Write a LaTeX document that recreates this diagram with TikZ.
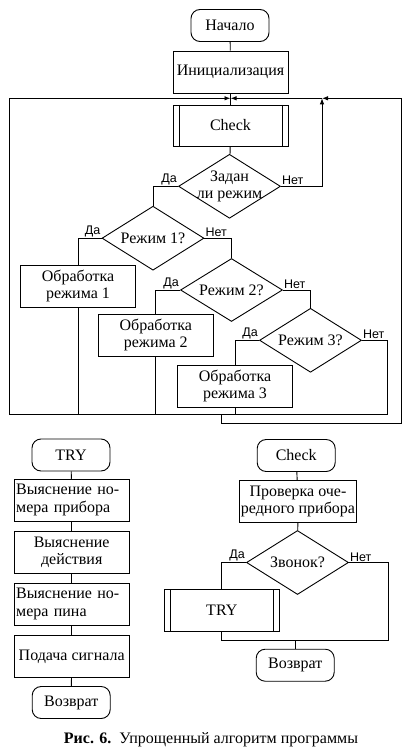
\documentclass[tikz,border=0pt]{standalone}
\usepackage{fontspec}
\setmainfont{Liberation Serif}
\newfontfamily\lblfont{Liberation Sans}
\usetikzlibrary{shapes.geometric, arrows.meta}

\tikzset{
  blk/.style = {draw, black, line width = 0.9pt, minimum width = 115pt, minimum height = 42pt, inner sep = 1pt, align = center},
  term/.style = {blk, rounded corners = 9pt, minimum width = 78pt, minimum height = 32pt},
  leftblk/.style = {blk, inner sep = 2pt, text width = 111pt, align = left},
  subproc/.style = {blk, path picture = {
      \draw[black, line width = 0.9pt]
        ([xshift = 6pt]path picture bounding box.north west) -- ([xshift = 6pt]path picture bounding box.south west)
        ([xshift = -6pt]path picture bounding box.north east) -- ([xshift = -6pt]path picture bounding box.south east);}},
  cond/.style = {draw, black, line width = 0.9pt, diamond, minimum width = 102pt, minimum height = 64pt, inner sep = 0pt},
  yes/.style = {anchor = south east, inner sep = 1pt, font = \lblfont\fontsize{12.5}{12.5}\selectfont},
  no/.style = {anchor = south west, inner sep = 1pt, font = \lblfont\fontsize{12.5}{12.5}\selectfont},
  flow/.style = {black, line width = 0.9pt},
  back/.style = {flow, -{Latex[length = 6pt, width = 4.5pt]}}
}

\begin{document}
\begin{tikzpicture} [x = 1pt, y = -1pt, font = \fontsize{16}{17.5}\selectfont]
\useasboundingbox (0, 0) rectangle (417, 754);
% main program
\node[term] (start) at (230, 25.5){Начало};
\node[blk] (init) at (230.5, 72){Инициализация};
\node[subproc, minimum height = 41pt] (check) at (230.5, 125.5){Check};
\node[cond, label = {[align = center]center:Задан\\ли режим}] (dq) at (229.5, 186.3){};
\node[cond, label = {center:Режим 1?}] (m1) at (153, 238.2){};
\node[blk] (p1) at (78, 286){Обработка\\режима 1};
\node[cond, minimum height = 63pt, label = {center:Режим 2?}] (m2) at (231.5, 290){};
\node[blk] (p2) at (155.8, 335.2){Обработка\\режима 2};
\node[cond, label = {center:Режим 3?}] (m3) at (310.5, 340.3){};
\node[blk] (p3) at (235, 386){Обработка\\режима 3};
\coordinate (jn) at (230.5, 98.3);
\coordinate (nt) at (322, 98.3);
\coordinate (lt) at (9.3, 98.3);
\coordinate (lb) at (9.3, 414.3);
\coordinate (rb) at (387.7, 414.3);
\coordinate (sb) at (221.7, 414.3);
\coordinate (rc) at (401.7, 423.3);
\draw[flow] (start) -- (init);
\draw[flow] (init) -- (check);
\draw[flow] (check) -- (dq);
\draw[flow] (dq.west) -| (m1.north);
\draw[back] (dq.east) -| (nt);
\draw[flow] (m1.west) -| (p1.north);
\draw[flow] (m1.east) -| (m2.north);
\draw[flow] (m2.west) -| (p2.north);
\draw[flow] (m2.east) -| (m3.north);
\draw[flow] (m3.west) -| (p3.north);
\draw[flow] (m3.east) -| (rb);
\draw[flow] (p1.south) -- (p1.south |- rb);
\draw[flow] (p2.south) -- (p2.south |- rb);
\draw[flow] (p3.south) -- (p3.south |- rb);
\draw[back] (rb) -- (lb) -- (lt) -- (jn);
\draw[back] (sb) |- (rc) |- (nt);
\draw[back] (nt) -- (jn);
\node[yes] (dq-y) at (dq.west){Да};
\node[no] (dq-n) at (dq.east){Нет};
\node[yes] (m1-y) at (m1.west){Да};
\node[no] (m1-n) at (m1.east){Нет};
\node[yes] (m2-y) at (m2.west){Да};
\node[no] (m2-n) at (m2.east){Нет};
\node[yes] (m3-y) at (m3.west){Да};
\node[no] (m3-n) at (m3.east){Нет};
% TRY
\node[term] (try) at (71, 455){TRY};
\node[leftblk] (t1) at (71.7, 500.2){Выяснение но-\\мера прибора};
\node[blk] (t2) at (71.7, 552.5){Выяснение\\действия};
\node[leftblk] (t3) at (71.7, 604.2){Выяснение но-\\мера пина};
\node[blk] (t4) at (71.7, 656.5){Подача сигнала};
\node[term] (ret1) at (71.2, 702.5){Возврат};
\draw[flow] (try) -- (t1);
\draw[flow] (t1) -- (t2);
\draw[flow] (t2) -- (t3);
\draw[flow] (t3) -- (t4);
\draw[flow] (t4) -- (ret1);
% Check
\node[term] (chk) at (296.2, 455.5){Check};
\node[blk] (c1) at (298, 501.5){Проверка оче-\\редного прибора};
\node[cond, label = {center:Звонок?}] (zv) at (297.5, 562.5){};
\node[subproc] (tr) at (221.8, 610.5){TRY};
\node[term] (ret2) at (295.2, 665.2){Возврат};
\coordinate (jr) at (388.3, 640);
\draw[flow] (chk) -- (c1);
\draw[flow] (c1) -- (zv);
\draw[flow] (zv.west) -| (tr.north);
\draw[flow] (zv.east) -| (jr) -| (tr.south);
\draw[flow] (ret2.north |- jr) -- (ret2.north);
\node[yes] (zv-y) at (zv.west){Да};
\node[no] (zv-n) at (zv.east){Нет};
\node (cap) at (211, 740){\textbf{Рис. 6.}\ \ Упрощенный алгоритм программы};
\end{tikzpicture}
\end{document}
